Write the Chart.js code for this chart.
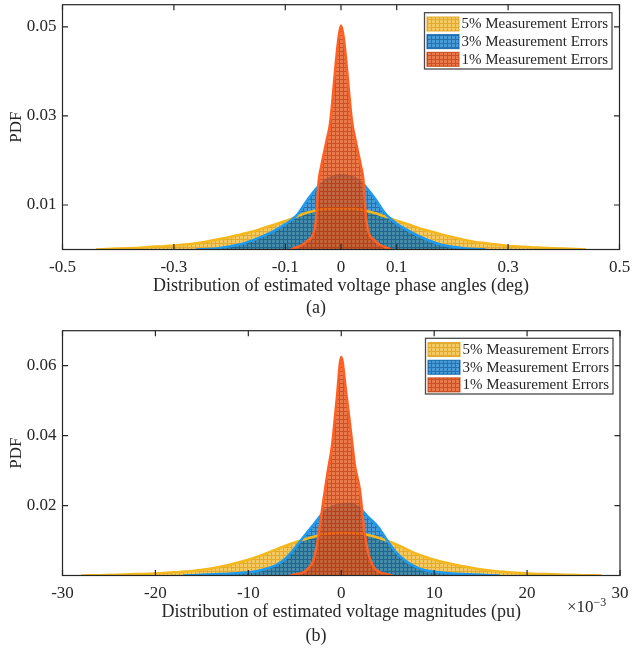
<!DOCTYPE html>
<html><head><meta charset="utf-8">
<script src="https://cdn.jsdelivr.net/npm/chart.js@4.4.1/dist/chart.umd.min.js"></script>
<style>
html,body{margin:0;padding:0;background:#fff;}
body{width:632px;height:650px;position:relative;overflow:hidden;font-family:'Liberation Serif','Times New Roman',serif;color:#262626;}
canvas{position:absolute;left:0;}
.cap{position:absolute;left:0;width:632px;text-align:center;font-size:18px;line-height:20px;}
.exp{position:absolute;font-size:17px;line-height:20px;white-space:nowrap;}
.exp sup{font-size:12px;line-height:0;vertical-align:6px;}
</style></head>
<body>
<canvas id="chartA" width="632" height="320" style="top:0"></canvas>
<canvas id="chartB" width="632" height="330" style="top:320px"></canvas>
<div class="cap" style="top:297px">(a)</div>
<div class="cap" style="top:625px">(b)</div>
<div class="exp" style="left:567px;top:597px">×10<sup>−3</sup></div>
<script>
// ---------- DATA ----------
const seriesLabels = ['5% Measurement Errors', '3% Measurement Errors', '1% Measurement Errors'];

// (a) estimated voltage phase angles (deg)
const angleTicksX = [-0.5, -0.3, -0.1, 0, 0.1, 0.3, 0.5];
const angleTickLabelsX = ['-0.5', '-0.3', '-0.1', '0', '0.1', '0.3', '0.5'];
const angleTicksY = [0.01, 0.03, 0.05];
const angleTickLabelsY = ['0.01', '0.03', '0.05'];

const angleX5 = [-0.44,-0.42,-0.40,-0.38,-0.36,-0.34,-0.32,-0.30,-0.28,-0.26,-0.24,-0.22,-0.20,-0.18,-0.16,-0.14,-0.12,-0.10,-0.08,-0.06,-0.04,-0.02,0,0.02,0.04,0.06,0.08,0.10,0.12,0.14,0.16,0.18,0.20,0.22,0.24,0.26,0.28,0.30,0.32,0.34,0.36,0.38,0.40,0.42,0.44];
const anglePdf5 = [0,0.0001,0.0002,0.0003,0.0004,0.0006,0.0007,0.0009,0.0011,0.0014,0.0018,0.0023,0.0028,0.0034,0.0040,0.0048,0.0056,0.0064,0.0074,0.0083,0.0089,0.0092,0.0092,0.0092,0.0088,0.0082,0.0074,0.0065,0.0057,0.0048,0.0041,0.0034,0.0028,0.0022,0.0017,0.0014,0.0011,0.0008,0.0007,0.0005,0.0004,0.0003,0.0002,0.0001,0];

const angleX3 = [-0.26,-0.24,-0.22,-0.20,-0.18,-0.16,-0.14,-0.12,-0.10,-0.08,-0.06,-0.04,-0.02,0,0.02,0.04,0.06,0.08,0.10,0.12,0.14,0.16,0.18,0.20,0.22,0.24,0.26];
const anglePdf3 = [0,0.0001,0.0003,0.0007,0.0012,0.0020,0.0030,0.0042,0.0057,0.0076,0.0112,0.0143,0.0161,0.0167,0.0163,0.0147,0.0116,0.0080,0.0058,0.0043,0.0030,0.0019,0.0011,0.0006,0.0003,0.0001,0];

const angleX1 = [-0.09,-0.08,-0.07,-0.06,-0.05,-0.045,-0.04,-0.035,-0.03,-0.025,-0.02,-0.015,-0.01,-0.005,0,0.005,0.01,0.015,0.02,0.025,0.03,0.035,0.04,0.045,0.05,0.06,0.07,0.08,0.09];
const anglePdf1 = [0,0.0005,0.0010,0.0020,0.0034,0.0065,0.0155,0.0190,0.0220,0.0250,0.0280,0.0340,0.0410,0.0470,0.0503,0.0475,0.0415,0.0345,0.0285,0.0252,0.0222,0.0192,0.0158,0.0070,0.0037,0.0021,0.0010,0.0005,0];

// (b) estimated voltage magnitudes (pu, in units of 1e-3)
const magTicksX = [-30, -20, -10, 0, 10, 20, 30];
const magTickLabelsX = ['-30', '-20', '-10', '0', '10', '20', '30'];
const magTicksY = [0.02, 0.04, 0.06];
const magTickLabelsY = ['0.02', '0.04', '0.06'];

const magX5 = [-28,-26,-24,-22,-20,-18,-16,-14,-12,-10,-8,-6,-4,-2,0,2,4,6,8,10,12,14,16,18,20,22,24,26,28];
const magPdf5 = [0,0.0001,0.0002,0.0004,0.0006,0.0009,0.0013,0.0020,0.0031,0.0045,0.0064,0.0085,0.0103,0.0117,0.0122,0.0120,0.0108,0.0088,0.0063,0.0045,0.0032,0.0022,0.0014,0.0009,0.0006,0.0004,0.0002,0.0001,0];

const magX3 = [-17,-15,-13,-11,-9,-8,-7,-6,-5,-4,-3,-2,-1,0,1,2,3,4,5,6,7,8,9,11,13,15,17];
const magPdf3 = [0,0.0002,0.0004,0.0007,0.0013,0.0020,0.0030,0.0048,0.0078,0.0112,0.0145,0.0178,0.0196,0.0203,0.0205,0.0192,0.0165,0.0138,0.0098,0.0063,0.0040,0.0025,0.0015,0.0008,0.0004,0.0002,0];

const magX1 = [-5.5,-5,-4,-3.5,-3,-2.5,-2,-1.5,-1,-0.5,0,0.5,1,1.5,2,2.5,3,3.5,4,5,5.5];
const magPdf1 = [0,0.0003,0.0010,0.0022,0.0044,0.0105,0.0200,0.0290,0.0370,0.0500,0.0625,0.0530,0.0420,0.0310,0.0245,0.0125,0.0055,0.0024,0.0011,0.0003,0];

// ---------- STYLE ----------
Chart.defaults.font.family = "'Liberation Serif','Times New Roman',serif";
Chart.defaults.color = '#262626';

const styles = [
  {fill: 'rgba(240,182,40,0.74)', grid: 'rgba(222,158,20,0.88)', line: '#F3B81E'},
  {fill: 'rgba(0,116,198,0.72)',  grid: 'rgba(0,88,160,0.85)',   line: '#1E9BF0'},
  {fill: 'rgba(228,88,28,0.8)',   grid: 'rgba(196,62,15,0.9)',   line: '#FF5F22'}
];

function gridPattern(fill, line) {
  const c = document.createElement('canvas');
  c.width = 4; c.height = 4;
  const g = c.getContext('2d');
  g.fillStyle = fill; g.fillRect(0, 0, 4, 4);
  g.clearRect(3, 0, 1, 4); g.clearRect(0, 3, 4, 1);
  g.fillStyle = line; g.fillRect(3, 0, 1, 4); g.fillRect(0, 3, 3, 1);
  return g.createPattern(c, 'repeat');
}
const patterns = styles.map(s => gridPattern(s.fill, s.grid));

function pts(xs, ys) { return xs.map((x, i) => ({x: x, y: ys[i]})); }

function buildDatasets(xs, ys) {
  const hist = (i, order) => ({
    label: seriesLabels[i], data: pts(xs[i], ys[i]), fill: 'origin',
    backgroundColor: patterns[i], borderWidth: 0, pointRadius: 0,
    cubicInterpolationMode: 'monotone', order: order, isHist: true, styleIndex: i
  });
  const curve = (i, order) => ({
    label: seriesLabels[i] + ' fit', data: pts(xs[i], ys[i]), fill: false,
    borderColor: styles[i].line, borderWidth: 2.5, pointRadius: 0,
    cubicInterpolationMode: 'monotone', order: order
  });
  return [hist(0, 6), hist(1, 5), curve(0, 4), curve(1, 3), hist(2, 2), curve(2, 1)];
}

const framePlugin = {
  id: 'frame',
  afterDatasetsDraw(chart) {
    const {ctx, chartArea: a, scales: {x, y}} = chart;
    ctx.save();
    ctx.strokeStyle = '#262626';
    ctx.lineWidth = 1.2;
    ctx.strokeRect(a.left, a.top, a.right - a.left, a.bottom - a.top);
    const L = 5.5;
    ctx.beginPath();
    x.ticks.forEach(t => {
      const px = x.getPixelForValue(t.value);
      ctx.moveTo(px, a.bottom); ctx.lineTo(px, a.bottom - L);
      ctx.moveTo(px, a.top); ctx.lineTo(px, a.top + L);
    });
    y.ticks.forEach(t => {
      const py = y.getPixelForValue(t.value);
      ctx.moveTo(a.left, py); ctx.lineTo(a.left + L, py);
      ctx.moveTo(a.right, py); ctx.lineTo(a.right - L, py);
    });
    ctx.stroke();
    ctx.restore();
  },
  afterDraw(chart, args, opts) {
    const {ctx} = chart;
    const b = opts.box;
    ctx.save();
    ctx.fillStyle = '#ffffff';
    ctx.fillRect(b.l, b.t, b.r - b.l, b.b - b.t);
    ctx.strokeStyle = '#4a4a4a';
    ctx.lineWidth = 1.3;
    ctx.strokeRect(b.l, b.t, b.r - b.l, b.b - b.t);
    const hists = chart.data.datasets.filter(d => d.isHist).sort((p, q) => p.styleIndex - q.styleIndex);
    ctx.font = "15px 'Liberation Serif','Times New Roman',serif";
    ctx.textBaseline = 'middle';
    ctx.textAlign = 'left';
    hists.forEach((d, i) => {
      const cy = b.t + 11.3 + 17.65 * i;
      ctx.fillStyle = d.backgroundColor;
      ctx.fillRect(b.l + 2.5, cy - 7, 32, 14);
      ctx.strokeStyle = styles[d.styleIndex].grid;
      ctx.lineWidth = 1;
      ctx.strokeRect(b.l + 2.5, cy - 7, 32, 14);
      ctx.fillStyle = '#262626';
      ctx.fillText(d.label, b.l + 37, cy + 0.5);
    });
    ctx.restore();
  }
};

function makeOptions(cfg) {
  return {
    responsive: false, animation: false, devicePixelRatio: 1,
    layout: {padding: {left: 0, right: cfg.padRight, top: cfg.padTop, bottom: 0}},
    plugins: {legend: {display: false}, tooltip: {enabled: false}, frame: {box: cfg.legendBox}},
    scales: {
      x: {
        type: 'linear', min: cfg.xMin, max: cfg.xMax,
        grid: {display: false, drawTicks: false}, border: {display: false},
        afterBuildTicks: s => { s.ticks = cfg.xTicks.map(v => ({value: v})); },
        afterFit: s => { s.height = cfg.xHeight; s.paddingLeft = 0; s.paddingRight = 0; },
        ticks: {autoSkip: false, maxRotation: 0, padding: 7.5, font: {size: 17}, color: '#262626',
                callback: (v, i) => cfg.xLabels[i]},
        title: {display: true, text: cfg.xTitle, font: {size: 18}, color: '#262626',
                padding: {top: 0, bottom: cfg.xTitlePad}}
      },
      y: {
        type: 'linear', min: 0, max: cfg.yMax,
        grid: {display: false, drawTicks: false}, border: {display: false},
        afterBuildTicks: s => { s.ticks = cfg.yTicks.map(v => ({value: v})); },
        afterFit: s => { s.width = 62.5; s.paddingTop = 0; s.paddingBottom = 0; },
        ticks: {padding: 6, font: {size: 17}, color: '#262626', callback: (v, i) => cfg.yLabels[i]},
        title: {display: true, text: 'PDF', font: {size: 17}, color: '#262626', padding: {top: 6, bottom: 0}}
      }
    }
  };
}

new Chart(document.getElementById('chartA'), {
  type: 'line',
  data: {datasets: buildDatasets([angleX5, angleX3, angleX1], [anglePdf5, anglePdf3, anglePdf1])},
  options: makeOptions({
    padTop: 4.7, padRight: 12.5, xHeight: 70.5, xTitlePad: 22.7,
    xMin: -0.5, xMax: 0.5, yMax: 0.055,
    xTicks: angleTicksX, xLabels: angleTickLabelsX, yTicks: angleTicksY, yLabels: angleTickLabelsY,
    xTitle: 'Distribution of estimated voltage phase angles (deg)',
    legendBox: {l: 424.5, t: 12.7, r: 612, b: 69}
  }),
  plugins: [framePlugin]
});

new Chart(document.getElementById('chartB'), {
  type: 'line',
  data: {datasets: buildDatasets([magX5, magX3, magX1], [magPdf5, magPdf3, magPdf1])},
  options: makeOptions({
    padTop: 10.7, padRight: 12, xHeight: 74.5, xTitlePad: 27.2,
    xMin: -30, xMax: 30, yMax: 0.07,
    xTicks: magTicksX, xLabels: magTickLabelsX, yTicks: magTicksY, yLabels: magTickLabelsY,
    xTitle: 'Distribution of estimated voltage magnitudes (pu)',
    legendBox: {l: 425.5, t: 18.3, r: 613, b: 74}
  }),
  plugins: [framePlugin]
});
</script>
</body></html>
